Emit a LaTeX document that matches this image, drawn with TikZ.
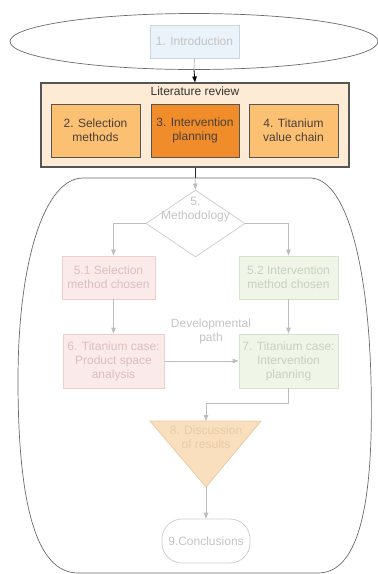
\documentclass[tikz,border=0pt]{standalone}
\usepackage{fontspec}
\setmainfont{Liberation Sans}
\usetikzlibrary{arrows.meta,shapes.geometric}

\definecolor{introfill}{HTML}{EAF2FA}
\definecolor{introdraw}{HTML}{C9D6E3}
\definecolor{fadetext}{HTML}{C4C4C4}
\definecolor{litfill}{HTML}{FDEBD6}
\definecolor{litdraw}{HTML}{555555}
\definecolor{lightorange}{HTML}{FCC073}
\definecolor{darkorange}{HTML}{F08C2A}
\definecolor{littext}{HTML}{4A4038}
\definecolor{pinkfill}{HTML}{FBEAEA}
\definecolor{pinkdraw}{HTML}{F0CDCD}
\definecolor{pinktext}{HTML}{DDBDBD}
\definecolor{greenfill}{HTML}{EFF6E8}
\definecolor{greendraw}{HTML}{D3E4C8}
\definecolor{greentext}{HTML}{C6D1BF}
\definecolor{discfill}{HTML}{F9DFBD}
\definecolor{discdraw}{HTML}{EACBA2}
\definecolor{disctext}{HTML}{E8CCA8}
\definecolor{arrowgray}{HTML}{BDBDBD}
\definecolor{framegray}{HTML}{6A6A6A}
\definecolor{shapegray}{HTML}{D0D0D0}

\begin{document}
\begin{tikzpicture}[x=1pt,y=-1pt,
  font=\fontsize{12}{14}\selectfont,
  box/.style={draw, rectangle, inner sep=0pt, align=center, line width=0.8pt},
  litbox/.style={box, draw=litdraw, text=littext, minimum height=53pt},
  pinkbox/.style={box, fill=pinkfill, draw=pinkdraw, text=pinktext},
  greenbox/.style={box, fill=greenfill, draw=greendraw, text=greentext},
  arr/.style={draw=arrowgray, line width=0.8pt, -{Triangle[width=4.5pt,length=6pt]}},
  blackarr/.style={draw=black, line width=0.8pt, -{Triangle[width=4.5pt,length=6pt]}}
]
\useasboundingbox (0,0) rectangle (378,574);

% opening phase
\node[ellipse, draw=framegray, line width=0.7pt, minimum width=368pt, minimum height=56pt, inner sep=0pt] (phase) at (194,41.5) {};
\node[box, fill=introfill, draw=introdraw, text=fadetext, minimum width=89pt, minimum height=33pt] (intro) at (194.5,41.5) {1. Introduction};

% literature review block
\node[box, fill=litfill, draw=litdraw, line width=1.1pt, minimum width=308pt, minimum height=84pt] (lit) at (195,125) {};
\node[text=black!80, inner sep=0pt] (littitle) at (195,91) {Literature review};
\node[litbox, fill=lightorange, minimum width=89pt] (sel) at (95.5,130.5) {2. Selection\\methods};
\node[litbox, fill=darkorange, minimum width=88pt] (plan) at (195,130.5) {3. Intervention\\planning};
\node[litbox, fill=lightorange, minimum width=89pt] (chain) at (293.5,130.5) {4. Titanium\\value chain};

% main frame
\draw[framegray, line width=0.7pt]
  (83,178) -- (310,178)
  .. controls (345,178) and (368,260) .. (371,380)
  .. controls (374,500) and (360,573) .. (318,573)
  -- (78,573)
  .. controls (35,573) and (18,500) .. (18,380)
  .. controls (18,260) and (45,178) .. (83,178);
\coordinate (frametop) at (195,178);

% methodology decision
\node[diamond, draw=shapegray, fill=white, line width=0.8pt, minimum width=99pt, minimum height=67pt, inner sep=0pt] (meth) at (195.5,223.5) {};
\node[text=fadetext, align=center, inner sep=0pt] (methlabel) at (195.5,210) {5.\\Methodology};

\node[pinkbox, minimum width=93pt, minimum height=43pt] (s51) at (108.5,277.5) {5.1 Selection\\method chosen};
\node[greenbox, minimum width=99pt, minimum height=43pt] (s52) at (288.5,277.5) {5.2 Intervention\\method chosen};
\node[pinkbox, minimum width=101pt, minimum height=54pt] (s6) at (113.5,361) {6. Titanium case:\\Product space\\analysis};
\node[greenbox, minimum width=99pt, minimum height=54pt] (s7) at (288.5,361) {7. Titanium case:\\Intervention\\planning};
\node[text=fadetext, align=center, inner sep=0pt] (devpath) at (211,331) {Developmental\\path};

% discussion funnel
\draw[fill=discfill, draw=discdraw, line width=0.8pt] (150,421) -- (261,421) -- (206,487) -- cycle;
\coordinate (disctop) at (206,421);
\coordinate (disctip) at (206,487);
\node[text=disctext, align=center, inner sep=0pt] (disc) at (206,437) {8. Discussion\\of results};

\node[box, draw=shapegray, text=fadetext, rounded corners=20pt, minimum width=88pt, minimum height=44pt] (concl) at (206,541) {9.Conclusions};

% connectors
\draw[draw=arrowgray, line width=0.8pt] (intro.south) -- (phase.south);
\draw[blackarr] (phase.south) -- (lit.north);
\draw[draw=black!85, line width=0.8pt] (lit.south) -- (frametop);
\draw[arr] (frametop) -- (meth.north);
\draw[arr] (meth.west) -| (s51.north -| s6.north);
\draw[arr] (meth.east) -| (s52.north);
\draw[arr] (s51.south -| s6.north) -- (s6.north);
\draw[arr] (s52.south) -- (s7.north);
\draw[arr] (s6.east) -- (s6.east -| s7.west);
\draw[arr] (s7.south) -- ++(0,15) -| (disctop);
\draw[arr] (disctip) -- (concl.north);
\end{tikzpicture}
\end{document}
